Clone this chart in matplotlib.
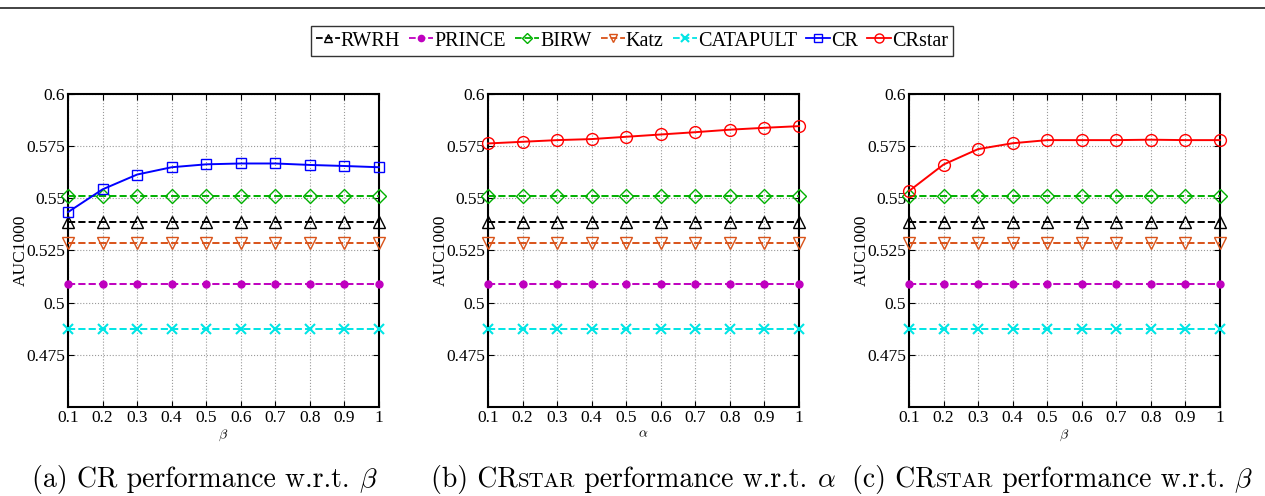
import numpy as np
import matplotlib
matplotlib.use('Agg')
import matplotlib.pyplot as plt
from matplotlib.lines import Line2D

plt.rcParams['font.family'] = ['Liberation Serif', 'DejaVu Serif']
plt.rcParams['mathtext.fontset'] = 'cm'

x = [0.1, 0.2, 0.3, 0.4, 0.5, 0.6, 0.7, 0.8, 0.9, 1.0]
xticklabels = ['0.1', '0.2', '0.3', '0.4', '0.5', '0.6', '0.7', '0.8', '0.9', '1']
yticks = [0.475, 0.5, 0.525, 0.55, 0.575, 0.6]
yticklabels = ['0.475', '0.5', '0.525', '0.55', '0.575', '0.6']

# flat baselines (same in every panel)
rwrh = 0.5385
prince = 0.5088
birw = 0.5510
katz = 0.5284
catapult = 0.4872

cr_beta = [0.5434, 0.5543, 0.5614, 0.5649, 0.5663, 0.5667, 0.5667, 0.5660, 0.5655, 0.5649]
crstar_alpha = [0.5763, 0.5771, 0.5779, 0.5784, 0.5795, 0.5806, 0.5817, 0.5829, 0.5838, 0.5846]
crstar_beta = [0.5535, 0.5662, 0.5736, 0.5764, 0.5779, 0.5779, 0.5779, 0.5781, 0.5779, 0.5779]

names = ['RWRH', 'PRINCE', 'BIRW', 'Katz', 'CATAPULT', 'CR', 'CRstar']
colors = ['black', '#BF00BF', '#00B000', '#D95319', '#00E5E5', '#0000FF', '#FF0000']
markers = ['^', 'o', 'D', 'v', 'x', 's', 'o']
styles = [dict(mfc='none', ms=8), dict(mfc='#BF00BF', ms=5), dict(mfc='none', ms=7),
          dict(mfc='none', ms=8), dict(ms=7, mew=1.5), dict(mfc='none', ms=7),
          dict(mfc='none', ms=8.5)]
leg_styles = [dict(mfc='none', ms=6), dict(mfc='#BF00BF', ms=4.5), dict(mfc='none', ms=5.5),
              dict(mfc='none', ms=6), dict(ms=6, mew=1.5), dict(mfc='none', ms=5.5),
              dict(mfc='none', ms=6.5)]

fig = plt.figure(figsize=(12.65, 4.96), dpi=100)
W, H = 1265.0, 496.0
lefts = [68, 488, 909]
axw, top, bot = 311, 94, 407

panels = [(cr_beta, 5, r'$\beta$'), (crstar_alpha, 6, r'$\alpha$'), (crstar_beta, 6, r'$\beta$')]

for k, (series, idx, xl) in enumerate(panels):
    ax = fig.add_axes([lefts[k] / W, 1 - bot / H, axw / W, (bot - top) / H])
    base = [rwrh, prince, birw, katz, catapult]
    for i, b in enumerate(base):
        ax.plot(x, [b] * len(x), ls='--', lw=1.4, color=colors[i], marker=markers[i],
                mec=colors[i], clip_on=False, zorder=3, **styles[i])
    ax.plot(x, series, ls='-', lw=1.4, color=colors[idx], marker=markers[idx],
            mec=colors[idx], clip_on=False, zorder=4, **styles[idx])
    ax.set_xlim(0.1, 1.0)
    ax.set_ylim(0.45, 0.6)
    ax.set_xticks(x)
    ax.set_xticklabels(xticklabels)
    ax.set_yticks(yticks)
    ax.set_yticklabels(yticklabels)
    ax.tick_params(direction='in', top=True, right=True, labelsize=12.5, length=4, pad=2)
    ax.grid(True, ls=':', color='#999999', lw=0.8)
    for s in ax.spines.values():
        s.set_linewidth(1.5)
    ax.set_ylabel('AUC1000', fontsize=12.5, labelpad=-2)
    ax.set_xlabel(xl, fontsize=10, labelpad=1)

handles = [Line2D([], [], color=colors[i], ls='--' if i < 5 else '-', lw=1.3,
                  marker=markers[i], mec=colors[i], **leg_styles[i]) for i in range(7)]
fig.legend(handles, names, loc='center', bbox_to_anchor=(632 / W, 1 - 41 / H), ncol=7,
           fontsize=14.5, frameon=True, fancybox=False, edgecolor='black',
           handlelength=1.2, handletextpad=0.05, columnspacing=0.45, borderpad=0.25,
           borderaxespad=0)

# horizontal rule at the top
fig.add_artist(Line2D([0, 1], [1 - 8 / H, 1 - 8 / H], color='#222222', lw=1.2))

# captions: pieces drawn left to right so "STAR" can be in small caps
renderer = fig.canvas.get_renderer()


def caption(x0, parts):
    xpos = x0
    for txt, size in parts:
        t = fig.text(xpos / W, 1 - 487 / H, txt, fontsize=size, family='cmr10',
                     ha='left', va='baseline')
        bb = t.get_window_extent(renderer)
        xpos += bb.width


fs, sc = 20, 15
caption(32, [('(a) CR performance w.r.t. ', fs), (r'$\beta$', fs)])
caption(431, [('(b) CR', fs), ('STAR', sc), (' performance w.r.t. ', fs), (r'$\alpha$', fs)])
caption(852, [('(c) CR', fs), ('STAR', sc), (' performance w.r.t. ', fs), (r'$\beta$', fs)])

fig.savefig('out.png', dpi=100)
